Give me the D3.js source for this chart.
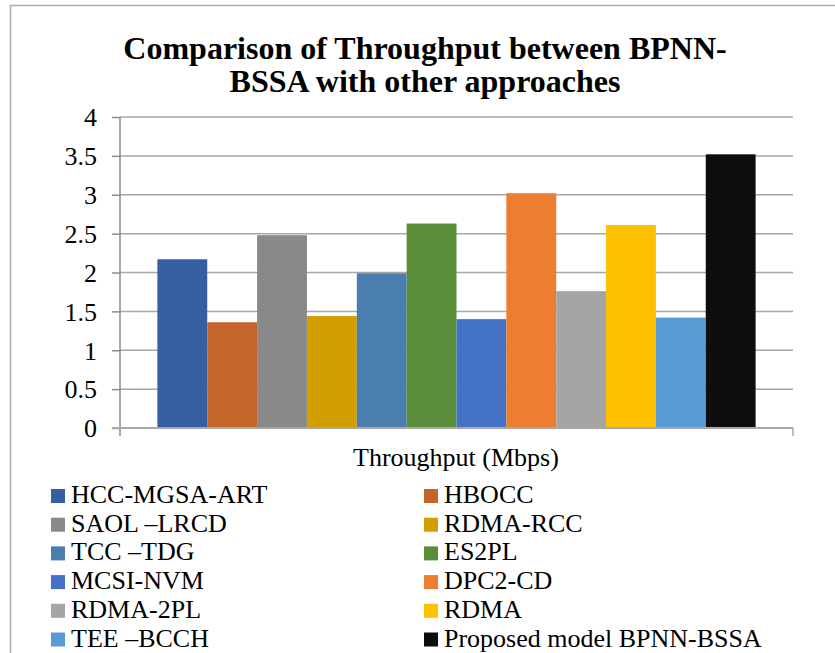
<!DOCTYPE html>
<html>
<head>
<meta charset="utf-8">
<script src="https://cdn.jsdelivr.net/npm/d3@7"></script>
</head>
<body style="margin:0;padding:0;background:#fff">
<svg id="chart" width="835" height="653" style="display:block"></svg>
<script>
// Throughput (Mbps) of each approach
const methods = [
  "HCC-MGSA-ART", "HBOCC", "SAOL \u2013LRCD", "RDMA-RCC", "TCC \u2013TDG", "ES2PL",
  "MCSI-NVM", "DPC2-CD", "RDMA-2PL", "RDMA", "TEE \u2013BCCH", "Proposed model BPNN-BSSA"
];
const throughput = [2.17, 1.36, 2.48, 1.44, 1.99, 2.63, 1.40, 3.02, 1.76, 2.61, 1.42, 3.52];
const colors = [
  "#365EA3", "#C4652A", "#898989", "#D29E00", "#4A7EAF", "#5B8E3A",
  "#4472C4", "#ED7D31", "#A5A5A5", "#FFC000", "#5B9BD5", "#0D0D0D"
];
const yTicks = [0, 0.5, 1, 1.5, 2, 2.5, 3, 3.5, 4];
const titleLines = ["Comparison of Throughput between BPNN-", "BSSA with other approaches"];
const xAxisTitle = "Throughput (Mbps)";

const FONT = "Liberation Serif";
const svg = d3.select("#chart");
const plot = { left: 120, right: 793, top: 117, bottom: 428 };

// outer frame
svg.append("rect")
  .attr("x", 10.5).attr("y", 5.5)
  .attr("width", 840).attr("height", 660)
  .attr("fill", "none").attr("stroke", "#ABABAB").attr("stroke-width", 1.5);

// title
svg.append("g").selectAll("text").data(titleLines).join("text")
  .attr("x", 425).attr("y", (d, i) => 59 + i * 33)
  .attr("text-anchor", "middle")
  .attr("font-size", 32).attr("font-weight", "bold")
  .style("font-family", FONT)
  .text(d => d);

const y = d3.scaleLinear().domain([0, 4]).range([plot.bottom, plot.top]);
const x = d3.scaleBand().domain(methods)
  .range([plot.left, plot.right]).paddingInner(0).paddingOuter(0.75);

// horizontal gridlines
svg.append("g").selectAll("line").data(yTicks.filter(t => t > 0)).join("line")
  .attr("x1", plot.left).attr("x2", plot.right)
  .attr("y1", d => y(d)).attr("y2", d => y(d))
  .attr("stroke", "#A8A8A8").attr("stroke-width", 1.5);

// bars
svg.append("g").selectAll("rect").data(methods).join("rect")
  .attr("x", d => x(d))
  .attr("width", x.bandwidth())
  .attr("y", (d, i) => y(throughput[i]))
  .attr("height", (d, i) => y(0) - y(throughput[i]))
  .attr("fill", (d, i) => colors[i]);

// y axis
const yAxis = svg.append("g")
  .attr("transform", `translate(${plot.left},0)`)
  .call(d3.axisLeft(y).tickValues(yTicks).tickSize(8).tickPadding(15)
    .tickFormat(d => String(d)));
yAxis.attr("font-family", FONT);
yAxis.select(".domain").remove();
yAxis.selectAll(".tick line").attr("stroke", "#8C8C8C").attr("stroke-width", 1.5);
yAxis.selectAll(".tick text")
  .attr("font-size", 26)
  .style("font-family", FONT)
  .attr("fill", "#000")
  .attr("dy", "0.34em");
yAxis.append("line")
  .attr("x1", 0).attr("x2", 0)
  .attr("y1", plot.top).attr("y2", plot.bottom + 8)
  .attr("stroke", "#8C8C8C").attr("stroke-width", 1.5);

// x axis baseline with end ticks
const xAxis = svg.append("g");
xAxis.append("line")
  .attr("x1", plot.left - 8).attr("x2", plot.right)
  .attr("y1", y(0)).attr("y2", y(0))
  .attr("stroke", "#A8A8A8").attr("stroke-width", 2);
xAxis.selectAll("line.end").data([plot.left, plot.right]).join("line")
  .attr("class", "end")
  .attr("x1", d => d).attr("x2", d => d)
  .attr("y1", y(0)).attr("y2", y(0) + 8)
  .attr("stroke", "#A8A8A8").attr("stroke-width", 1.5);

svg.append("text")
  .attr("x", 456).attr("y", 466)
  .attr("text-anchor", "middle")
  .attr("font-size", 26)
  .style("font-family", FONT)
  .text(xAxisTitle);

// legend, two columns
const legend = svg.append("g").selectAll("g").data(methods).join("g")
  .attr("transform", (d, i) => {
    const col = i % 2, row = Math.floor(i / 2);
    return `translate(${col === 0 ? 51 : 424},${489 + row * 28.7})`;
  });
legend.append("rect")
  .attr("width", 14).attr("height", 14)
  .attr("fill", (d, i) => colors[i]);
legend.append("text")
  .attr("x", 20).attr("y", 14)
  .attr("font-size", 26)
  .style("font-family", FONT)
  .text(d => d);
</script>
</body>
</html>
